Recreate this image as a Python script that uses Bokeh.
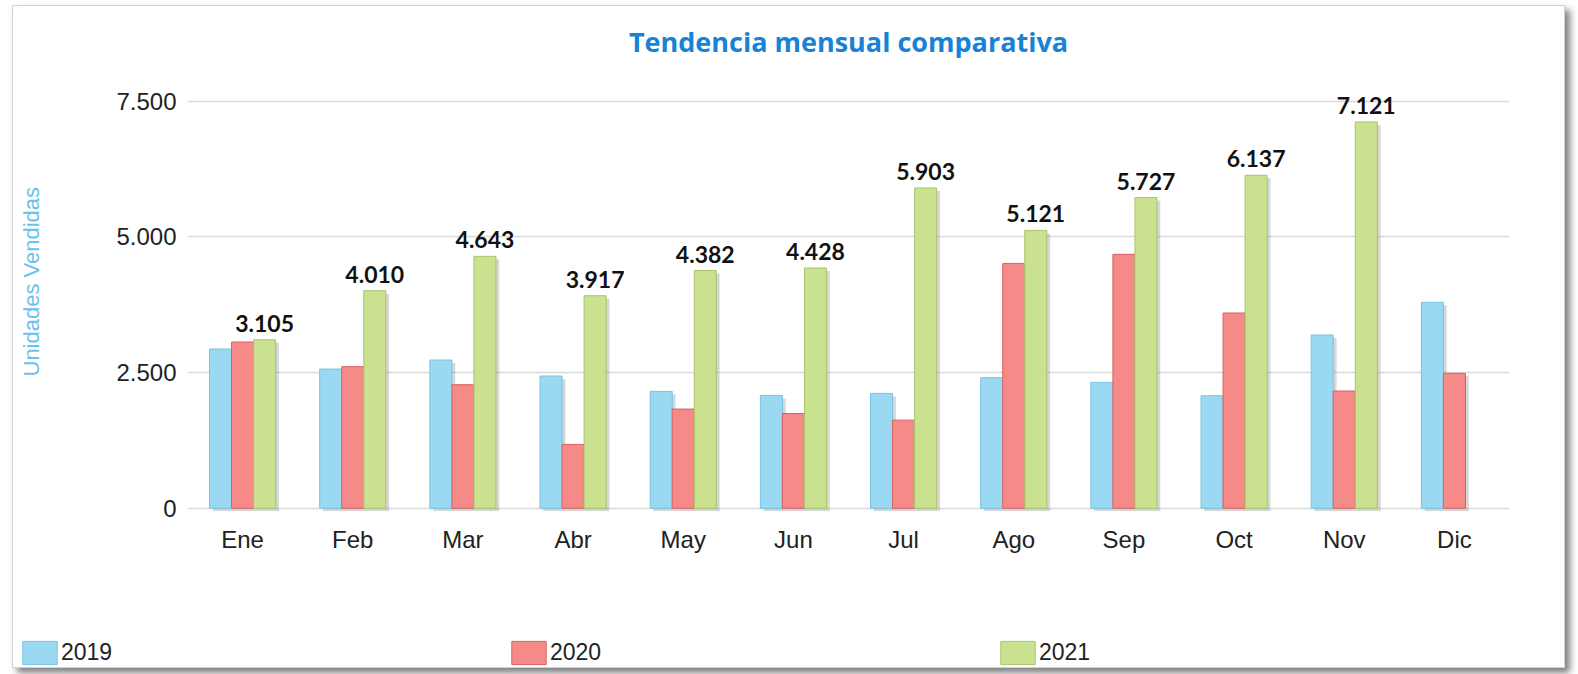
from bokeh.plotting import figure
from bokeh.layouts import column
from bokeh.models import Range1d, FixedTicker, Legend, LegendItem, Title, ColumnDataSource
from bokeh.transform import dodge
from bokeh.core.properties import value
from bokeh.embed import file_html
from bokeh.resources import INLINE
import math

months = ["Ene", "Feb", "Mar", "Abr", "May", "Jun", "Jul", "Ago", "Sep", "Oct", "Nov", "Dic"]
v2019 = [2935, 2566, 2732, 2437, 2154, 2080, 2117, 2407, 2320, 2074, 3193, 3795]
v2020 = [3064, 2609, 2277, 1176, 1828, 1746, 1624, 4513, 4680, 3599, 2161, 2486]
v2021 = [3105, 4010, 4643, 3917, 4382, 4428, 5903, 5121, 5727, 6137, 7121, float("nan")]
series = ["2019", "2020", "2021"]
y_ticks = [0, 2500, 5000, 7500]

fills = ["#9bd9f3", "#f58a88", "#cae28f"]
lines = ["#78c2e2", "#d9615f", "#a8c46b"]

def fmt(v):
    return f"{int(v):,}".replace(",", ".")

src = ColumnDataSource(dict(
    month=months, v2019=v2019, v2020=v2020, v2021=v2021,
    s2019=[v - 55 for v in v2019], s2020=[v - 55 for v in v2020], s2021=[v - 55 for v in v2021],
))
lbl_idx = [i for i, v in enumerate(v2021) if not math.isnan(v)]
lbl_src = ColumnDataSource(dict(
    month=[months[i] for i in lbl_idx],
    v=[v2021[i] for i in lbl_idx],
    txt=[fmt(v2021[i]) for i in lbl_idx],
))

p = figure(x_range=months, y_range=Range1d(-60, 7700), width=1551, height=615,
           output_backend="svg", toolbar_location=None,
           min_border_left=174, min_border_right=55, min_border_top=84, min_border_bottom=110)
p.outline_line_color = None
p.background_fill_color = "white"
p.border_fill_color = "white"

p.title.text = "Tendencia mensual comparativa"
p.title.align = "center"
p.title.text_font = "Open Sans"
p.title.text_font_style = "bold"
p.title.text_font_size = "27px"
p.title.text_color = "#1782d6"
p.title.standoff = 4
# empty gap between the title and the plot area
p.add_layout(Title(text=" ", text_font_size="1px", standoff=26), "above")

offsets = [-0.2, 0.0, 0.2]
cols = ["v2019", "v2020", "v2021"]
shadows = ["s2019", "s2020", "s2021"]
for off, sc in zip(offsets, shadows):
    p.vbar(x=dodge("month", off + 0.03, range=p.x_range), top=sc, bottom=-55, width=0.2,
           source=src, fill_color="#7a7a7a", fill_alpha=0.3, line_color=None)
for off, c, f, l in zip(offsets, cols, fills, lines):
    p.vbar(x=dodge("month", off, range=p.x_range), top=c, bottom=0, width=0.2,
           source=src, fill_color=f, line_color=l, line_width=1)

p.text(x=dodge("month", 0.2, range=p.x_range), y="v", text="txt", source=lbl_src,
       text_align="center", text_baseline="bottom", y_offset=-8,
       text_font=value("Lato"), text_font_style="bold", text_font_size="23px", text_color="#111111")

p.xgrid.grid_line_color = None
p.ygrid.grid_line_color = "#dadada"
p.ygrid.grid_line_width = 1.5
p.yaxis.ticker = FixedTicker(ticks=y_ticks)
p.yaxis.major_label_overrides = {t: fmt(t) for t in y_ticks}
for ax in (p.xaxis[0], p.yaxis[0]):
    ax.axis_line_color = None
    ax.major_tick_line_color = None
    ax.minor_tick_line_color = None
    ax.major_label_text_font = "Liberation Sans"
    ax.major_label_text_font_size = "24px"
    ax.major_label_text_color = "#222222"
p.yaxis.major_label_standoff = 5
p.xaxis.major_label_standoff = 8

# gap between tick labels and the y-axis title, then the title itself
p.add_layout(Title(text=" ", text_font_size="1px", standoff=66), "left")
ytitle = Title(text="Unidades Vendidas", align="left", offset=135, standoff=2,
               text_font="Liberation Sans", text_font_size="22px", text_font_style="normal",
               text_color="#6cc0ee")
p.add_layout(ytitle, "left")

# legend strip below the chart
lg = figure(width=1551, height=46, output_backend="svg", toolbar_location=None,
            x_axis_type=None, y_axis_type=None, min_border=0,
            x_range=Range1d(0, 1), y_range=Range1d(0, 1))
lg.outline_line_color = None
lg.xgrid.visible = False
lg.ygrid.visible = False
for fig in (p, lg):
    if "frame_align" in fig.properties():
        fig.frame_align = False
dummy = ColumnDataSource(dict(x=[-10], top=[-10]))
leg_r = [lg.vbar(x="x", top="top", width=0.1, source=dummy, fill_color=f, line_color=l)
         for f, l in zip(fills, lines)]
legend = Legend(items=[LegendItem(label=s, renderers=[r]) for s, r in zip(series, leg_r)],
                orientation="horizontal", location=(5, 0),
                glyph_width=43, glyph_height=29, label_standoff=0, spacing=0, label_width=446,
                label_height=29, padding=0, margin=0, border_line_color=None, background_fill_alpha=0,
                label_text_font="Liberation Sans", label_text_font_size="23px",
                label_text_color="#222222")
lg.add_layout(legend, "center")

layout = column(p, lg, spacing=0)
layout.styles = {"margin-top": "5px", "margin-left": "12px",
                 "border": "1px solid #d2d2d2", "background-color": "white",
                 "box-shadow": "5px 5px 7px rgba(0,0,0,0.5)"}

open("out.html", "w").write(file_html(layout, INLINE))
